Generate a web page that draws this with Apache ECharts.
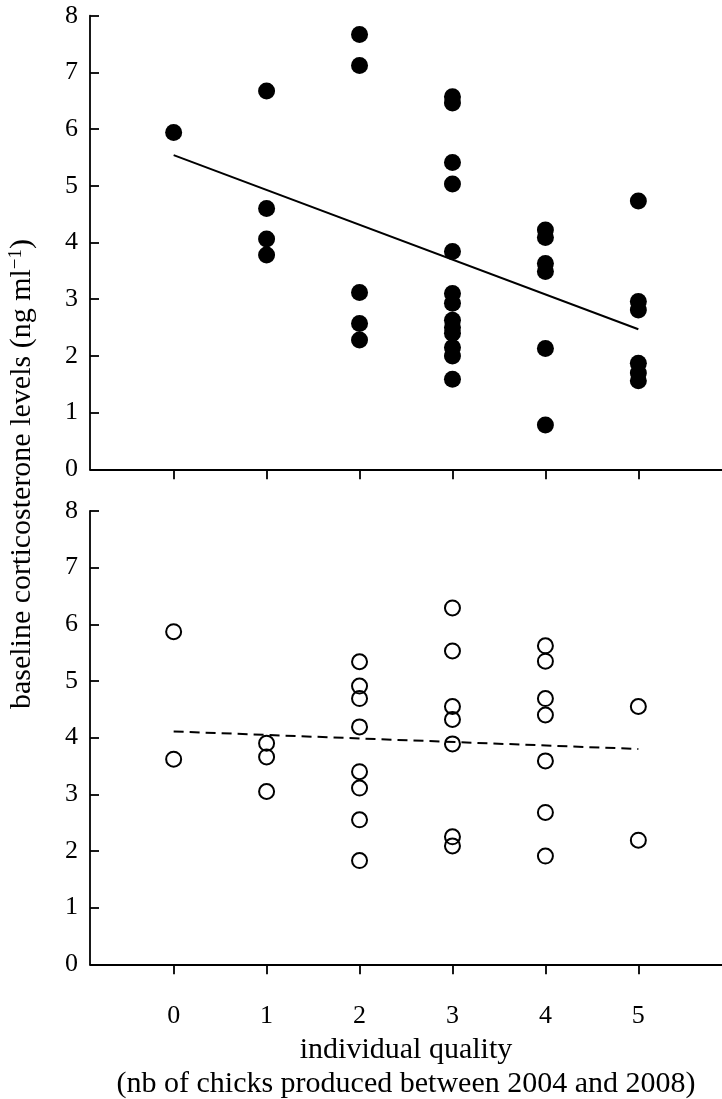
<!DOCTYPE html>
<html>
<head>
<meta charset="utf-8">
<script src="https://cdn.jsdelivr.net/npm/echarts@6/dist/echarts.min.js"></script>
<style>
html,body{margin:0;padding:0;background:#fff;}
#chart{width:722px;height:1099px;}
</style>
</head>
<body>
<div id="chart"></div>
<script>
// ---- data ----
const qualityTicks = [0, 1, 2, 3, 4, 5];

// top panel (filled circles)
const topQuality = [0, 1, 1, 1, 1, 2, 2, 2, 2, 2,
  3, 3, 3, 3, 3, 3, 3, 3, 3, 3, 3, 3, 3,
  4, 4, 4, 4, 4, 4,
  5, 5, 5, 5, 5, 5];
const topCort = [5.94, 6.67, 4.60, 4.06, 3.78, 7.67, 7.12, 3.12, 2.57, 2.28,
  6.57, 6.46, 5.41, 5.03, 3.84, 3.10, 2.93, 2.63, 2.50, 2.40, 2.15, 2.00, 1.59,
  4.22, 4.09, 3.63, 3.49, 2.13, 0.78,
  4.73, 2.96, 2.81, 1.87, 1.70, 1.56];
const topFitX = [0, 5];
const topFitY = [5.54, 2.47];

// bottom panel (open circles)
const bottomQuality = [0, 0, 1, 1, 1,
  2, 2, 2, 2, 2, 2, 2, 2,
  3, 3, 3, 3, 3, 3, 3,
  4, 4, 4, 4, 4, 4, 4,
  5, 5];
const bottomCort = [5.87, 3.62, 3.90, 3.66, 3.05,
  5.34, 4.91, 4.69, 4.19, 3.40, 3.11, 2.55, 1.83,
  6.29, 5.53, 4.55, 4.32, 3.89, 2.25, 2.09,
  5.62, 5.35, 4.69, 4.40, 3.59, 2.68, 1.91,
  4.55, 2.19];
const bottomFitX = [0, 5];
const bottomFitY = [4.11, 3.80];

const xTitle = 'individual quality\n(nb of chicks produced between 2004 and 2008)';

// ---- build ----
const zip = (a, b) => a.map((v, i) => [v, b[i]]);
const FONT = '"Liberation Serif", "Times New Roman", serif';
const AXIS_W = 1.8;

function xAxisCfg(gi, withLabels) {
  return {
    type: 'value', gridIndex: gi, min: -0.9, max: 5.9,
    axisLine: { show: true, onZero: false, lineStyle: { color: '#000', width: AXIS_W } },
    axisTick: { show: true, inside: false, length: 10, customValues: qualityTicks,
      lineStyle: { color: '#000', width: AXIS_W } },
    axisLabel: { show: withLabels, customValues: qualityTicks, margin: 39,
      color: '#000', fontSize: 26, fontFamily: FONT },
    splitLine: { show: false },
    name: withLabels ? xTitle : '',
    nameLocation: 'middle', nameGap: 69,
    nameTextStyle: { color: '#000', fontSize: 30, fontFamily: FONT, lineHeight: 34, verticalAlign: 'top' }
  };
}
function yAxisCfg(gi) {
  return {
    type: 'value', gridIndex: gi, min: 0, max: 8, interval: 1,
    axisLine: { show: true, onZero: false, lineStyle: { color: '#000', width: AXIS_W } },
    axisTick: { show: true, inside: true, length: 9, lineStyle: { color: '#000', width: AXIS_W } },
    axisLabel: { margin: 12, color: '#000', fontSize: 26, fontFamily: FONT },
    splitLine: { show: false }
  };
}

const chart = echarts.init(document.getElementById('chart'), null, { renderer: 'canvas' });
chart.setOption({
  backgroundColor: '#fff',
  animation: false,
  grid: [
    { left: 90, right: 0, top: 15.7, height: 453.6, outerBoundsMode: 'none', containLabel: false },
    { left: 90, right: 0, top: 511, height: 453.3, outerBoundsMode: 'none', containLabel: false }
  ],
  xAxis: [xAxisCfg(0, false), xAxisCfg(1, true)],
  yAxis: [yAxisCfg(0), yAxisCfg(1)],
  graphic: [{
    type: 'text',
    x: 22, y: 474, rotation: Math.PI / 2,
    style: {
      text: '{a|baseline corticosterone levels (ng ml}{s|−1}{a|)}',
      align: 'center', verticalAlign: 'middle',
      rich: {
        a: { fontSize: 30, fontFamily: FONT, fill: '#000' },
        s: { fontSize: 19, fontFamily: FONT, fill: '#000', verticalAlign: 'top', padding: [0, 0, 11, 0] }
      }
    }
  }],
  series: [
    {
      type: 'line', xAxisIndex: 0, yAxisIndex: 0, data: zip(topFitX, topFitY),
      symbol: 'none', lineStyle: { color: '#000', width: 2 }, z: 3
    },
    {
      type: 'scatter', xAxisIndex: 0, yAxisIndex: 0, data: zip(topQuality, topCort),
      symbol: 'circle', symbolSize: 17, itemStyle: { color: '#000', opacity: 1 }, z: 2
    },
    {
      type: 'line', xAxisIndex: 1, yAxisIndex: 1, data: zip(bottomFitX, bottomFitY),
      symbol: 'none', lineStyle: { color: '#000', width: 2, type: [10, 6] }, z: 1
    },
    {
      type: 'scatter', xAxisIndex: 1, yAxisIndex: 1, data: zip(bottomQuality, bottomCort),
      symbol: 'circle', symbolSize: 15, itemStyle: { color: 'rgba(255,255,255,0)', borderColor: '#000', borderWidth: 2, opacity: 1 }, z: 2
    }
  ]
});
</script>
</body>
</html>
